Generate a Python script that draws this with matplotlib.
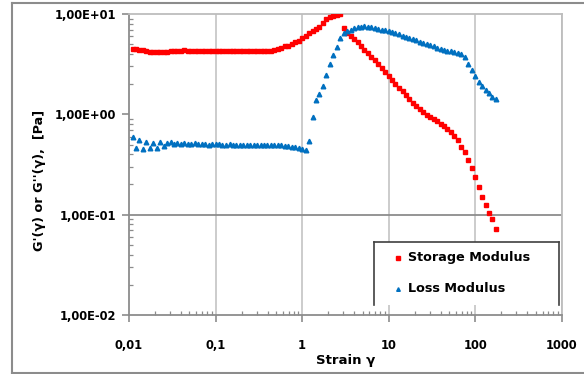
import matplotlib
matplotlib.use("Agg")
import matplotlib.pyplot as plt
from matplotlib.lines import Line2D
from matplotlib.patches import Rectangle
from matplotlib.ticker import FixedLocator, LogLocator, NullFormatter

# strain sweep
strain = [0.0110, 0.0120, 0.0132, 0.0145, 0.0158, 0.0174, 0.0191, 0.0209, 0.0229, 0.0251,
          0.0275, 0.0302, 0.0331, 0.0363, 0.0398, 0.0437, 0.0479, 0.0525, 0.0575, 0.0631,
          0.0692, 0.0759, 0.0832, 0.0912,
          0.100, 0.110, 0.120, 0.132, 0.145, 0.158, 0.174, 0.191, 0.209, 0.229,
          0.251, 0.275, 0.302, 0.331, 0.363, 0.398, 0.437, 0.479, 0.525, 0.575,
          0.631, 0.692, 0.759, 0.832, 0.912,
          1.00, 1.10, 1.20, 1.32, 1.45, 1.58, 1.74, 1.91, 2.09, 2.29,
          2.51, 2.75, 3.02, 3.31, 3.63, 3.98, 4.37, 4.79, 5.25, 5.75,
          6.31, 6.92, 7.59, 8.32, 9.12,
          10.0, 11.0, 12.0, 13.2, 14.5, 15.8, 17.4, 19.1, 20.9, 22.9,
          25.1, 27.5, 30.2, 33.1, 36.3, 39.8, 43.7, 47.9, 52.5, 57.5,
          63.1, 69.2, 75.9, 83.2, 91.2,
          100, 110, 120, 132, 145, 158, 174]

storage = [4.45, 4.45, 4.40, 4.35, 4.30, 4.20, 4.15, 4.15, 4.15, 4.20,
           4.20, 4.25, 4.25, 4.30, 4.30, 4.35, 4.30, 4.30, 4.30, 4.30,
           4.30, 4.25, 4.25, 4.30,
           4.30, 4.30, 4.25, 4.25, 4.25, 4.25, 4.30, 4.30, 4.30, 4.30,
           4.30, 4.30, 4.30, 4.30, 4.30, 4.30, 4.30, 4.35, 4.45, 4.60,
           4.75, 4.85, 5.00, 5.20, 5.40,
           5.70, 6.00, 6.40, 6.70, 7.10, 7.50, 8.20, 8.90, 9.40, 9.50,
           9.70, 9.90, 7.20, 6.50, 6.00, 5.60, 5.20, 4.85, 4.40, 4.10,
           3.75, 3.45, 3.20, 2.90, 2.65,
           2.40, 2.20, 2.00, 1.85, 1.70, 1.55, 1.42, 1.30, 1.20, 1.12,
           1.05, 0.98, 0.93, 0.89, 0.85, 0.81, 0.76, 0.71, 0.66, 0.61,
           0.55, 0.47, 0.42, 0.35, 0.29,
           0.235, 0.19, 0.15, 0.125, 0.105, 0.09, 0.072]

loss = [0.60, 0.46, 0.56, 0.45, 0.53, 0.46, 0.52, 0.46, 0.53, 0.48,
        0.52, 0.53, 0.51, 0.52, 0.51, 0.52, 0.51, 0.51, 0.52, 0.51,
        0.51, 0.51, 0.50, 0.51,
        0.51, 0.51, 0.50, 0.50, 0.51, 0.50, 0.50, 0.50, 0.50, 0.50,
        0.50, 0.50, 0.50, 0.50, 0.50, 0.49, 0.49, 0.49, 0.49, 0.49,
        0.48, 0.48, 0.47, 0.47, 0.46,
        0.45, 0.44, 0.54, 0.95, 1.40, 1.60, 1.90, 2.45, 3.20, 3.90,
        4.70, 5.80, 6.40, 6.75, 7.00, 7.25, 7.40, 7.50, 7.55, 7.50,
        7.40, 7.30, 7.15, 7.00, 6.85,
        6.70, 6.55, 6.40, 6.25, 6.05, 5.90, 5.75, 5.60, 5.45, 5.30,
        5.15, 5.00, 4.90, 4.75, 4.60, 4.50, 4.40, 4.30, 4.25, 4.15,
        4.05, 3.95, 3.75, 3.20, 2.75,
        2.40, 2.10, 1.90, 1.75, 1.62, 1.50, 1.42]

x_ticks = [0.01, 0.1, 1, 10, 100, 1000]
x_labels = ["0,01", "0,1", "1", "10", "100", "1000"]
y_ticks = [0.01, 0.1, 1, 10]
y_labels = ["1,00E-02", "1,00E-01", "1,00E+00", "1,00E+01"]

plt.rcParams['font.family'] = ['DejaVu Sans']

W, H = 584, 374
fig = plt.figure(figsize=(W / 100, H / 100), dpi=100)
ax = fig.add_axes([129 / W, 1 - 315 / H, (561.7 - 129) / W, (315 - 14) / H])

ax.set_xscale('log')
ax.set_yscale('log')
ax.set_xlim(0.01, 1000)
ax.set_ylim(0.01, 10)

# grid: vertical lines at each decade, horizontal only at 0.1
for xv in x_ticks[1:]:
    ax.axvline(xv, color='#c8c8c8', lw=1.3, zorder=1)
ax.axhline(0.1, color='#8c8c8c', lw=1.3, zorder=1)

ax.plot(strain, storage, ls='none', marker='s', ms=3.3, color='#ff0000',
        mec='#ff0000', zorder=3)
ax.plot(strain, loss, ls='none', marker='^', ms=3.3, color='#0070c0',
        mec='#0070c0', zorder=3)

for side in ['top', 'right']:
    ax.spines[side].set_color('#bdbdbd')
    ax.spines[side].set_linewidth(1.3)
for side in ['left', 'bottom']:
    ax.spines[side].set_color('#8c8c8c')
    ax.spines[side].set_linewidth(1.3)

ax.xaxis.set_major_locator(FixedLocator(x_ticks))
ax.set_xticklabels(x_labels)
ax.yaxis.set_major_locator(FixedLocator(y_ticks))
ax.set_yticklabels(y_labels)
ax.xaxis.set_minor_locator(LogLocator(base=10, subs=range(2, 10)))
ax.yaxis.set_minor_locator(LogLocator(base=10, subs=range(2, 10)))
ax.xaxis.set_minor_formatter(NullFormatter())
ax.yaxis.set_minor_formatter(NullFormatter())

ax.tick_params(which='major', direction='out', length=5, width=1.2, color='#8c8c8c',
               labelsize=8.3, pad=4)
ax.tick_params(which='minor', direction='in', length=3, width=0.9, color='#8c8c8c')
ax.tick_params(axis='x', which='major', pad=12)
for lab in ax.get_xticklabels() + ax.get_yticklabels():
    lab.set_fontweight('bold')

ax.set_xlabel('Strain γ', fontsize=9.5, fontweight='bold', labelpad=2)
fig.text(40 / W, 1 - 180 / H, "G'(γ) or G''(γ),  [Pa]", rotation=90, fontsize=9.2,
         fontweight='bold', ha='center', va='center')

# legend box (open at the bottom as in the reference)
lx0, lx1, ly0, ly1 = 374 / W, 559 / W, 1 - 241.5 / H, 1 - 305 / H
fig.patches.append(Rectangle((lx0, ly1), lx1 - lx0, ly0 - ly1, transform=fig.transFigure,
                             facecolor='white', edgecolor='none', zorder=4))
for xs, ys in [([lx0, lx1], [ly0, ly0]), ([lx0, lx0], [ly0, ly1]), ([lx1, lx1], [ly0, ly1])]:
    fig.add_artist(Line2D(xs, ys, color='#404040', lw=1.2, transform=fig.transFigure, zorder=5))
fig.add_artist(Line2D([397.5 / W], [1 - 258 / H], marker='s', ms=3, color='#ff0000',
                      transform=fig.transFigure, zorder=6))
fig.add_artist(Line2D([397.5 / W], [1 - 289 / H], marker='^', ms=2.6, color='#0070c0',
                      transform=fig.transFigure, zorder=6))
fig.text(408 / W, 1 - 258 / H, 'Storage Modulus', fontsize=9.2, fontweight='bold',
         va='center', ha='left', zorder=6)
fig.text(408 / W, 1 - 289 / H, 'Loss Modulus', fontsize=9.2, fontweight='bold',
         va='center', ha='left', zorder=6)

# outer chart frame
for xs, ys in [([12 / W, 1], [1 - 3 / H, 1 - 3 / H]), ([12 / W, 12 / W], [1 - 3 / H, 1 - 372.5 / H]),
               ([12 / W, 1], [1 - 372.5 / H, 1 - 372.5 / H])]:
    fig.add_artist(Line2D(xs, ys, color='#8c8c8c', lw=1.5, transform=fig.transFigure))

fig.savefig('out.png', dpi=100)
